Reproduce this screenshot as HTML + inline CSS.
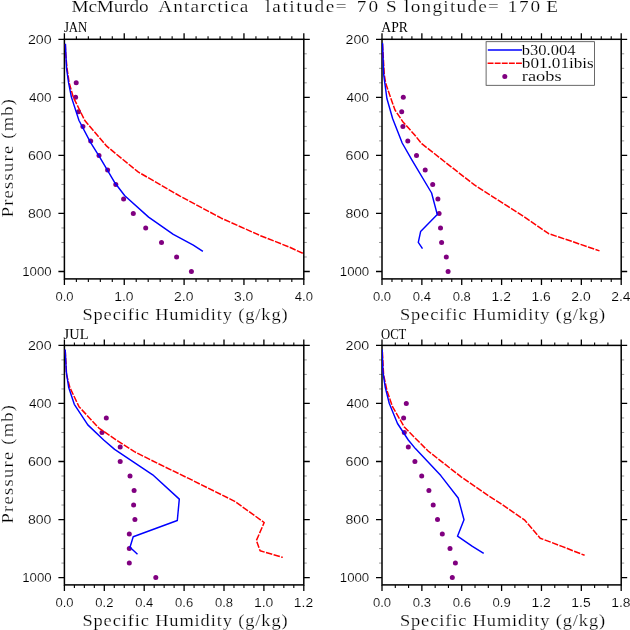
<!DOCTYPE html><html><head><meta charset="utf-8"><style>html,body{margin:0;padding:0;background:#fff;width:630px;height:630px;overflow:hidden}svg{display:block}</style></head><body>
<svg width="630" height="630" viewBox="0 0 630 630" style="will-change:transform">
<rect width="630" height="630" fill="#fff"/>
<defs>
<clipPath id="cP1"><rect x="64.4" y="39.3" width="239.40" height="239.60"/></clipPath>
<clipPath id="cP2"><rect x="382.0" y="39.3" width="239.20" height="239.60"/></clipPath>
<clipPath id="cP3"><rect x="64.4" y="345.4" width="239.40" height="239.50"/></clipPath>
<clipPath id="cP4"><rect x="382.0" y="345.4" width="239.20" height="239.50"/></clipPath>
</defs>
<path d="M58.40 39.30H64.40M303.80 39.30H309.80M58.40 97.35H64.40M303.80 97.35H309.80M58.40 155.40H64.40M303.80 155.40H309.80M58.40 213.45H64.40M303.80 213.45H309.80M58.40 271.50H64.40M303.80 271.50H309.80M64.40 33.30V39.30M64.40 278.90V284.90M124.25 33.30V39.30M124.25 278.90V284.90M184.10 33.30V39.30M184.10 278.90V284.90M243.95 33.30V39.30M243.95 278.90V284.90M303.80 33.30V39.30M303.80 278.90V284.90" stroke="#000" stroke-width="1.3" fill="none"/>
<path d="M76.37 36.30V39.30M76.37 278.90V281.90M88.34 36.30V39.30M88.34 278.90V281.90M100.31 36.30V39.30M100.31 278.90V281.90M112.28 36.30V39.30M112.28 278.90V281.90M136.22 36.30V39.30M136.22 278.90V281.90M148.19 36.30V39.30M148.19 278.90V281.90M160.16 36.30V39.30M160.16 278.90V281.90M172.13 36.30V39.30M172.13 278.90V281.90M196.07 36.30V39.30M196.07 278.90V281.90M208.04 36.30V39.30M208.04 278.90V281.90M220.01 36.30V39.30M220.01 278.90V281.90M231.98 36.30V39.30M231.98 278.90V281.90M255.92 36.30V39.30M255.92 278.90V281.90M267.89 36.30V39.30M267.89 278.90V281.90M279.86 36.30V39.30M279.86 278.90V281.90M291.83 36.30V39.30M291.83 278.90V281.90" stroke="#000" stroke-width="1.1" fill="none"/>
<path d="M61.40 53.81H64.40M303.80 53.81H306.80M61.40 68.33H64.40M303.80 68.33H306.80M61.40 82.84H64.40M303.80 82.84H306.80M61.40 111.86H64.40M303.80 111.86H306.80M61.40 126.38H64.40M303.80 126.38H306.80M61.40 140.89H64.40M303.80 140.89H306.80M61.40 169.91H64.40M303.80 169.91H306.80M61.40 184.43H64.40M303.80 184.43H306.80M61.40 198.94H64.40M303.80 198.94H306.80M61.40 227.96H64.40M303.80 227.96H306.80M61.40 242.48H64.40M303.80 242.48H306.80M61.40 256.99H64.40M303.80 256.99H306.80" stroke="#999" stroke-width="1.0" fill="none"/>
<rect x="64.4" y="39.3" width="239.40" height="239.60" stroke="#000" stroke-width="1.5" fill="none"/>
<g clip-path="url(#cP1)"><circle cx="76.2" cy="82.84" r="2.5" fill="#800080"/><circle cx="75.6" cy="97.35" r="2.5" fill="#800080"/><circle cx="78.5" cy="111.86" r="2.5" fill="#800080"/><circle cx="82.9" cy="126.38" r="2.5" fill="#800080"/><circle cx="90.7" cy="140.89" r="2.5" fill="#800080"/><circle cx="99" cy="155.40" r="2.5" fill="#800080"/><circle cx="107.6" cy="169.91" r="2.5" fill="#800080"/><circle cx="115.8" cy="184.43" r="2.5" fill="#800080"/><circle cx="123.6" cy="198.94" r="2.5" fill="#800080"/><circle cx="133.3" cy="213.45" r="2.5" fill="#800080"/><circle cx="145.7" cy="227.96" r="2.5" fill="#800080"/><circle cx="161.5" cy="242.48" r="2.5" fill="#800080"/><circle cx="176.6" cy="256.99" r="2.5" fill="#800080"/><circle cx="191.4" cy="271.50" r="2.5" fill="#800080"/><polyline points="65.3,44.0 65.7,54 67.0,68 69.2,83 73.4,97.5 84.8,120.5 106.7,146.2 138.1,171.9 180,196.1 221.3,218.2 260.5,235.7 289.4,247.1 302.8,253.3 330,266" fill="none" stroke="#f00" stroke-width="1.5" stroke-dasharray="6.5 1.4" stroke-linejoin="round"/><polyline points="65.4,43.8 66.5,68 68.6,82.9 71.4,97.1 79,120.5 90.5,142.4 100,157.6 115.2,183.3 124.8,195.7 148.6,217.1 173.3,234.3 193.3,245.1 202.9,251.4" fill="none" stroke="#00f" stroke-width="1.45" stroke-linejoin="round"/></g>
<path d="M376.00 39.30H382.00M621.20 39.30H627.20M376.00 97.35H382.00M621.20 97.35H627.20M376.00 155.40H382.00M621.20 155.40H627.20M376.00 213.45H382.00M621.20 213.45H627.20M376.00 271.50H382.00M621.20 271.50H627.20M382.00 33.30V39.30M382.00 278.90V284.90M421.87 33.30V39.30M421.87 278.90V284.90M461.73 33.30V39.30M461.73 278.90V284.90M501.60 33.30V39.30M501.60 278.90V284.90M541.47 33.30V39.30M541.47 278.90V284.90M581.33 33.30V39.30M581.33 278.90V284.90M621.20 33.30V39.30M621.20 278.90V284.90" stroke="#000" stroke-width="1.3" fill="none"/>
<path d="M391.97 36.30V39.30M391.97 278.90V281.90M401.93 36.30V39.30M401.93 278.90V281.90M411.90 36.30V39.30M411.90 278.90V281.90M431.83 36.30V39.30M431.83 278.90V281.90M441.80 36.30V39.30M441.80 278.90V281.90M451.77 36.30V39.30M451.77 278.90V281.90M471.70 36.30V39.30M471.70 278.90V281.90M481.67 36.30V39.30M481.67 278.90V281.90M491.63 36.30V39.30M491.63 278.90V281.90M511.57 36.30V39.30M511.57 278.90V281.90M521.53 36.30V39.30M521.53 278.90V281.90M531.50 36.30V39.30M531.50 278.90V281.90M551.43 36.30V39.30M551.43 278.90V281.90M561.40 36.30V39.30M561.40 278.90V281.90M571.37 36.30V39.30M571.37 278.90V281.90M591.30 36.30V39.30M591.30 278.90V281.90M601.27 36.30V39.30M601.27 278.90V281.90M611.23 36.30V39.30M611.23 278.90V281.90" stroke="#000" stroke-width="1.1" fill="none"/>
<path d="M379.00 53.81H382.00M621.20 53.81H624.20M379.00 68.33H382.00M621.20 68.33H624.20M379.00 82.84H382.00M621.20 82.84H624.20M379.00 111.86H382.00M621.20 111.86H624.20M379.00 126.38H382.00M621.20 126.38H624.20M379.00 140.89H382.00M621.20 140.89H624.20M379.00 169.91H382.00M621.20 169.91H624.20M379.00 184.43H382.00M621.20 184.43H624.20M379.00 198.94H382.00M621.20 198.94H624.20M379.00 227.96H382.00M621.20 227.96H624.20M379.00 242.48H382.00M621.20 242.48H624.20M379.00 256.99H382.00M621.20 256.99H624.20" stroke="#999" stroke-width="1.0" fill="none"/>
<rect x="382.0" y="39.3" width="239.20" height="239.60" stroke="#000" stroke-width="1.5" fill="none"/>
<g clip-path="url(#cP2)"><circle cx="403.3" cy="97.35" r="2.5" fill="#800080"/><circle cx="401.7" cy="111.86" r="2.5" fill="#800080"/><circle cx="402.9" cy="126.38" r="2.5" fill="#800080"/><circle cx="407.8" cy="140.89" r="2.5" fill="#800080"/><circle cx="416.5" cy="155.40" r="2.5" fill="#800080"/><circle cx="425.2" cy="169.91" r="2.5" fill="#800080"/><circle cx="432.7" cy="184.43" r="2.5" fill="#800080"/><circle cx="437.9" cy="198.94" r="2.5" fill="#800080"/><circle cx="439.1" cy="213.45" r="2.5" fill="#800080"/><circle cx="440.5" cy="227.96" r="2.5" fill="#800080"/><circle cx="441.6" cy="242.48" r="2.5" fill="#800080"/><circle cx="446.3" cy="256.99" r="2.5" fill="#800080"/><circle cx="448.1" cy="271.50" r="2.5" fill="#800080"/><polyline points="382.5,44 384.3,74.7 385.6,83 390.9,98.5 395,110 402.6,121.4 414.7,135 421.7,143.7 430.6,150.6 448.3,164.6 474.4,184.9 492.9,196.8 520.8,214.6 548.7,233.7 571.6,241.3 599.5,250.9" fill="none" stroke="#f00" stroke-width="1.5" stroke-dasharray="6.5 1.4" stroke-linejoin="round"/><polyline points="382.5,42.9 383.7,74.7 386.9,98.5 392.6,118.5 402.2,143 411.7,159.7 431.6,193 437.3,214.6 420.6,231.6 418.3,242.4 422.5,248.7" fill="none" stroke="#00f" stroke-width="1.45" stroke-linejoin="round"/></g>
<path d="M58.40 345.40H64.40M303.80 345.40H309.80M58.40 403.45H64.40M303.80 403.45H309.80M58.40 461.50H64.40M303.80 461.50H309.80M58.40 519.55H64.40M303.80 519.55H309.80M58.40 577.60H64.40M303.80 577.60H309.80M64.40 339.40V345.40M64.40 584.90V590.90M104.30 339.40V345.40M104.30 584.90V590.90M144.20 339.40V345.40M144.20 584.90V590.90M184.10 339.40V345.40M184.10 584.90V590.90M224.00 339.40V345.40M224.00 584.90V590.90M263.90 339.40V345.40M263.90 584.90V590.90M303.80 339.40V345.40M303.80 584.90V590.90" stroke="#000" stroke-width="1.3" fill="none"/>
<path d="M74.38 342.40V345.40M74.38 584.90V587.90M84.35 342.40V345.40M84.35 584.90V587.90M94.33 342.40V345.40M94.33 584.90V587.90M114.28 342.40V345.40M114.28 584.90V587.90M124.25 342.40V345.40M124.25 584.90V587.90M134.23 342.40V345.40M134.23 584.90V587.90M154.18 342.40V345.40M154.18 584.90V587.90M164.15 342.40V345.40M164.15 584.90V587.90M174.12 342.40V345.40M174.12 584.90V587.90M194.08 342.40V345.40M194.08 584.90V587.90M204.05 342.40V345.40M204.05 584.90V587.90M214.03 342.40V345.40M214.03 584.90V587.90M233.98 342.40V345.40M233.98 584.90V587.90M243.95 342.40V345.40M243.95 584.90V587.90M253.93 342.40V345.40M253.93 584.90V587.90M273.88 342.40V345.40M273.88 584.90V587.90M283.85 342.40V345.40M283.85 584.90V587.90M293.82 342.40V345.40M293.82 584.90V587.90" stroke="#000" stroke-width="1.1" fill="none"/>
<path d="M61.40 359.91H64.40M303.80 359.91H306.80M61.40 374.42H64.40M303.80 374.42H306.80M61.40 388.94H64.40M303.80 388.94H306.80M61.40 417.96H64.40M303.80 417.96H306.80M61.40 432.47H64.40M303.80 432.47H306.80M61.40 446.99H64.40M303.80 446.99H306.80M61.40 476.01H64.40M303.80 476.01H306.80M61.40 490.52H64.40M303.80 490.52H306.80M61.40 505.04H64.40M303.80 505.04H306.80M61.40 534.06H64.40M303.80 534.06H306.80M61.40 548.58H64.40M303.80 548.58H306.80M61.40 563.09H64.40M303.80 563.09H306.80" stroke="#999" stroke-width="1.0" fill="none"/>
<rect x="64.4" y="345.4" width="239.40" height="239.50" stroke="#000" stroke-width="1.5" fill="none"/>
<g clip-path="url(#cP3)"><circle cx="106.3" cy="417.96" r="2.5" fill="#800080"/><circle cx="102.0" cy="432.47" r="2.5" fill="#800080"/><circle cx="120.2" cy="446.99" r="2.5" fill="#800080"/><circle cx="120.2" cy="461.50" r="2.5" fill="#800080"/><circle cx="130" cy="476.01" r="2.5" fill="#800080"/><circle cx="134.1" cy="490.52" r="2.5" fill="#800080"/><circle cx="133.6" cy="505.04" r="2.5" fill="#800080"/><circle cx="134.9" cy="519.55" r="2.5" fill="#800080"/><circle cx="129.3" cy="534.06" r="2.5" fill="#800080"/><circle cx="129.3" cy="548.58" r="2.5" fill="#800080"/><circle cx="129.3" cy="563.09" r="2.5" fill="#800080"/><circle cx="155.8" cy="577.60" r="2.5" fill="#800080"/><polyline points="65.2,350 66.6,374.9 69.9,387.6 79,406.7 98.9,428.1 116.3,440 134.4,451.7 156.7,462.9 189.2,478.7 234.7,501.3 264.2,522.5 256.4,540.5 260.1,550.8 282.8,557.4" fill="none" stroke="#f00" stroke-width="1.5" stroke-dasharray="6.5 1.4" stroke-linejoin="round"/><polyline points="65.2,349.5 66.3,371.7 68.7,387.6 74.3,404.3 87.8,424.9 103.7,440 114.6,449.4 152.7,474.8 179.3,499.1 177.3,520.5 133.2,536.7 130,547.2 137.5,554.2" fill="none" stroke="#00f" stroke-width="1.45" stroke-linejoin="round"/></g>
<path d="M376.00 345.40H382.00M621.20 345.40H627.20M376.00 403.45H382.00M621.20 403.45H627.20M376.00 461.50H382.00M621.20 461.50H627.20M376.00 519.55H382.00M621.20 519.55H627.20M376.00 577.60H382.00M621.20 577.60H627.20M382.00 339.40V345.40M382.00 584.90V590.90M421.87 339.40V345.40M421.87 584.90V590.90M461.73 339.40V345.40M461.73 584.90V590.90M501.60 339.40V345.40M501.60 584.90V590.90M541.47 339.40V345.40M541.47 584.90V590.90M581.33 339.40V345.40M581.33 584.90V590.90M621.20 339.40V345.40M621.20 584.90V590.90" stroke="#000" stroke-width="1.3" fill="none"/>
<path d="M395.29 342.40V345.40M395.29 584.90V587.90M408.58 342.40V345.40M408.58 584.90V587.90M435.16 342.40V345.40M435.16 584.90V587.90M448.44 342.40V345.40M448.44 584.90V587.90M475.02 342.40V345.40M475.02 584.90V587.90M488.31 342.40V345.40M488.31 584.90V587.90M514.89 342.40V345.40M514.89 584.90V587.90M528.18 342.40V345.40M528.18 584.90V587.90M554.76 342.40V345.40M554.76 584.90V587.90M568.04 342.40V345.40M568.04 584.90V587.90M594.62 342.40V345.40M594.62 584.90V587.90M607.91 342.40V345.40M607.91 584.90V587.90" stroke="#000" stroke-width="1.1" fill="none"/>
<path d="M379.00 359.91H382.00M621.20 359.91H624.20M379.00 374.42H382.00M621.20 374.42H624.20M379.00 388.94H382.00M621.20 388.94H624.20M379.00 417.96H382.00M621.20 417.96H624.20M379.00 432.47H382.00M621.20 432.47H624.20M379.00 446.99H382.00M621.20 446.99H624.20M379.00 476.01H382.00M621.20 476.01H624.20M379.00 490.52H382.00M621.20 490.52H624.20M379.00 505.04H382.00M621.20 505.04H624.20M379.00 534.06H382.00M621.20 534.06H624.20M379.00 548.58H382.00M621.20 548.58H624.20M379.00 563.09H382.00M621.20 563.09H624.20" stroke="#999" stroke-width="1.0" fill="none"/>
<rect x="382.0" y="345.4" width="239.20" height="239.50" stroke="#000" stroke-width="1.5" fill="none"/>
<g clip-path="url(#cP4)"><circle cx="406.3" cy="403.45" r="2.5" fill="#800080"/><circle cx="403.6" cy="417.96" r="2.5" fill="#800080"/><circle cx="404.3" cy="432.47" r="2.5" fill="#800080"/><circle cx="408.3" cy="446.99" r="2.5" fill="#800080"/><circle cx="414.9" cy="461.50" r="2.5" fill="#800080"/><circle cx="421.7" cy="476.01" r="2.5" fill="#800080"/><circle cx="428.9" cy="490.52" r="2.5" fill="#800080"/><circle cx="433.2" cy="505.04" r="2.5" fill="#800080"/><circle cx="437.5" cy="519.55" r="2.5" fill="#800080"/><circle cx="442.3" cy="534.06" r="2.5" fill="#800080"/><circle cx="450" cy="548.58" r="2.5" fill="#800080"/><circle cx="455.4" cy="563.09" r="2.5" fill="#800080"/><circle cx="452.3" cy="577.60" r="2.5" fill="#800080"/><polyline points="382.4,352 383.6,374.9 387.0,390.8 392.5,406.7 404.3,427 417.1,440 428.1,451 461.4,477.1 489.2,496.2 500,503.1 524.8,520.2 540.2,538.2 561.9,546.4 584.6,555.3" fill="none" stroke="#f00" stroke-width="1.5" stroke-dasharray="6.5 1.4" stroke-linejoin="round"/><polyline points="382.1,349.5 382.9,371.7 385.3,387.6 389.3,403.5 397.5,423.5 408.3,440 415.4,448.6 440.8,475.6 458.2,498 464,519.8 457.5,536.2 472.4,546.3 483.7,553.3" fill="none" stroke="#00f" stroke-width="1.45" stroke-linejoin="round"/></g>
<rect x="486.1" y="41.7" width="108.3" height="43.6" fill="#fff" stroke="#444" stroke-width="0.8"/>
<line x1="487.8" y1="50.0" x2="522.0" y2="50.0" stroke="#00f" stroke-width="1.5"/>
<line x1="487.6" y1="63.3" x2="522.2" y2="63.3" stroke="#f00" stroke-width="1.5" stroke-dasharray="5.9 1.2"/>
<circle cx="504.8" cy="76.6" r="2.5" fill="#800080"/>
<text transform="translate(71.50,11.80) scale(1.1,1)" x="0" y="0" font-family="Liberation Serif" font-size="17.5" textLength="70.165" lengthAdjust="spacing" fill="#000" stroke="#fff" stroke-width="0.2">McMurdo</text>
<text transform="translate(158.30,11.80) scale(1.1,1)" x="0" y="0" font-family="Liberation Serif" font-size="17.5" textLength="81.926" lengthAdjust="spacing" fill="#000" stroke="#fff" stroke-width="0.2">Antarctica</text>
<text transform="translate(265.30,11.80) scale(1.1,1)" x="0" y="0" font-family="Liberation Serif" font-size="17.5" textLength="73.989" lengthAdjust="spacing" fill="#000" stroke="#fff" stroke-width="0.2">latitude=</text>
<text transform="translate(356.80,11.80) scale(1.1,1)" x="0" y="0" font-family="Liberation Serif" font-size="17.5" textLength="19.305" lengthAdjust="spacing" fill="#000" stroke="#fff" stroke-width="0.2">70</text>
<text transform="translate(386.00,11.80) scale(1.1,1)" x="0" y="0" font-family="Liberation Serif" font-size="17.5" textLength="6.545" lengthAdjust="spacing" fill="#000" stroke="#fff" stroke-width="0.2">S</text>
<text transform="translate(404.10,11.80) scale(1.1,1)" x="0" y="0" font-family="Liberation Serif" font-size="17.5" textLength="86.253" lengthAdjust="spacing" fill="#000" stroke="#fff" stroke-width="0.2">longitude=</text>
<text transform="translate(507.70,11.80) scale(1.1,1)" x="0" y="0" font-family="Liberation Serif" font-size="17.5" textLength="29.458" lengthAdjust="spacing" fill="#000" stroke="#fff" stroke-width="0.2">170</text>
<text transform="translate(546.30,11.80) scale(1.1,1)" x="0" y="0" font-family="Liberation Serif" font-size="17.5" textLength="13.582" lengthAdjust="spacing" fill="#000" stroke="#fff" stroke-width="0.2">E</text>
<text transform="translate(63.90,32.00) scale(1.0,1)" x="0" y="0" font-family="Liberation Serif" font-size="13.6" textLength="23.362" lengthAdjust="spacingAndGlyphs" fill="#000" stroke="#fff" stroke-width="0.0">JAN</text>
<text transform="translate(82.40,320.00) scale(1.15,1)" x="0" y="0" font-family="Liberation Serif" font-size="16" textLength="178.451" lengthAdjust="spacing" fill="#000" stroke="#fff" stroke-width="0.2">Specific Humidity (g/kg)</text>
<text transform="translate(55.40,300.90) scale(1.0,1)" x="0" y="0" font-family="Liberation Sans" font-size="12" textLength="18.118" lengthAdjust="spacingAndGlyphs" fill="#000" stroke="#fff" stroke-width="0.15">0.0</text>
<text transform="translate(114.25,300.90) scale(1.0,1)" x="0" y="0" font-family="Liberation Sans" font-size="12" textLength="19.326" lengthAdjust="spacingAndGlyphs" fill="#000" stroke="#fff" stroke-width="0.15">1.0</text>
<text transform="translate(174.10,300.90) scale(1.0,1)" x="0" y="0" font-family="Liberation Sans" font-size="12" textLength="19.326" lengthAdjust="spacingAndGlyphs" fill="#000" stroke="#fff" stroke-width="0.15">2.0</text>
<text transform="translate(233.95,300.90) scale(1.0,1)" x="0" y="0" font-family="Liberation Sans" font-size="12" textLength="19.326" lengthAdjust="spacingAndGlyphs" fill="#000" stroke="#fff" stroke-width="0.15">3.0</text>
<text transform="translate(294.80,300.90) scale(1.0,1)" x="0" y="0" font-family="Liberation Sans" font-size="12" textLength="18.118" lengthAdjust="spacingAndGlyphs" fill="#000" stroke="#fff" stroke-width="0.15">4.0</text>
<text transform="translate(27.90,43.70) scale(1.0,1)" x="0" y="0" font-family="Liberation Sans" font-size="12" textLength="23.684" lengthAdjust="spacingAndGlyphs" fill="#000" stroke="#fff" stroke-width="0.15">200</text>
<text transform="translate(28.90,101.75) scale(1.0,1)" x="0" y="0" font-family="Liberation Sans" font-size="12" textLength="22.5" lengthAdjust="spacingAndGlyphs" fill="#000" stroke="#fff" stroke-width="0.15">400</text>
<text transform="translate(27.90,159.80) scale(1.0,1)" x="0" y="0" font-family="Liberation Sans" font-size="12" textLength="23.684" lengthAdjust="spacingAndGlyphs" fill="#000" stroke="#fff" stroke-width="0.15">600</text>
<text transform="translate(27.90,217.85) scale(1.0,1)" x="0" y="0" font-family="Liberation Sans" font-size="12" textLength="23.523" lengthAdjust="spacingAndGlyphs" fill="#000" stroke="#fff" stroke-width="0.15">800</text>
<text transform="translate(22.20,275.90) scale(1.0,1)" x="0" y="0" font-family="Liberation Sans" font-size="12" textLength="29.423" lengthAdjust="spacingAndGlyphs" fill="#000" stroke="#fff" stroke-width="0.15">1000</text>
<text transform="translate(381.30,32.00) scale(1.0,1)" x="0" y="0" font-family="Liberation Serif" font-size="13.6" textLength="26.599" lengthAdjust="spacingAndGlyphs" fill="#000" stroke="#fff" stroke-width="0.0">APR</text>
<text transform="translate(399.90,320.00) scale(1.15,1)" x="0" y="0" font-family="Liberation Serif" font-size="16" textLength="178.451" lengthAdjust="spacing" fill="#000" stroke="#fff" stroke-width="0.2">Specific Humidity (g/kg)</text>
<text transform="translate(373.00,300.90) scale(1.0,1)" x="0" y="0" font-family="Liberation Sans" font-size="12" textLength="18.118" lengthAdjust="spacingAndGlyphs" fill="#000" stroke="#fff" stroke-width="0.15">0.0</text>
<text transform="translate(412.87,300.90) scale(1.0,1)" x="0" y="0" font-family="Liberation Sans" font-size="12" textLength="18.118" lengthAdjust="spacingAndGlyphs" fill="#000" stroke="#fff" stroke-width="0.15">0.4</text>
<text transform="translate(452.73,300.90) scale(1.0,1)" x="0" y="0" font-family="Liberation Sans" font-size="12" textLength="18.118" lengthAdjust="spacingAndGlyphs" fill="#000" stroke="#fff" stroke-width="0.15">0.8</text>
<text transform="translate(491.60,300.90) scale(1.0,1)" x="0" y="0" font-family="Liberation Sans" font-size="12" textLength="19.326" lengthAdjust="spacingAndGlyphs" fill="#000" stroke="#fff" stroke-width="0.15">1.2</text>
<text transform="translate(531.47,300.90) scale(1.0,1)" x="0" y="0" font-family="Liberation Sans" font-size="12" textLength="19.326" lengthAdjust="spacingAndGlyphs" fill="#000" stroke="#fff" stroke-width="0.15">1.6</text>
<text transform="translate(571.33,300.90) scale(1.0,1)" x="0" y="0" font-family="Liberation Sans" font-size="12" textLength="19.326" lengthAdjust="spacingAndGlyphs" fill="#000" stroke="#fff" stroke-width="0.15">2.0</text>
<text transform="translate(611.20,300.90) scale(1.0,1)" x="0" y="0" font-family="Liberation Sans" font-size="12" textLength="19.326" lengthAdjust="spacingAndGlyphs" fill="#000" stroke="#fff" stroke-width="0.15">2.4</text>
<text transform="translate(345.50,43.70) scale(1.0,1)" x="0" y="0" font-family="Liberation Sans" font-size="12" textLength="23.684" lengthAdjust="spacingAndGlyphs" fill="#000" stroke="#fff" stroke-width="0.15">200</text>
<text transform="translate(346.50,101.75) scale(1.0,1)" x="0" y="0" font-family="Liberation Sans" font-size="12" textLength="22.5" lengthAdjust="spacingAndGlyphs" fill="#000" stroke="#fff" stroke-width="0.15">400</text>
<text transform="translate(345.50,159.80) scale(1.0,1)" x="0" y="0" font-family="Liberation Sans" font-size="12" textLength="23.684" lengthAdjust="spacingAndGlyphs" fill="#000" stroke="#fff" stroke-width="0.15">600</text>
<text transform="translate(345.50,217.85) scale(1.0,1)" x="0" y="0" font-family="Liberation Sans" font-size="12" textLength="23.523" lengthAdjust="spacingAndGlyphs" fill="#000" stroke="#fff" stroke-width="0.15">800</text>
<text transform="translate(339.80,275.90) scale(1.0,1)" x="0" y="0" font-family="Liberation Sans" font-size="12" textLength="29.423" lengthAdjust="spacingAndGlyphs" fill="#000" stroke="#fff" stroke-width="0.15">1000</text>
<text transform="translate(63.60,338.50) scale(1.0,1)" x="0" y="0" font-family="Liberation Serif" font-size="13.6" textLength="24.85" lengthAdjust="spacingAndGlyphs" fill="#000" stroke="#fff" stroke-width="0.0">JUL</text>
<text transform="translate(82.40,626.00) scale(1.15,1)" x="0" y="0" font-family="Liberation Serif" font-size="16" textLength="178.451" lengthAdjust="spacing" fill="#000" stroke="#fff" stroke-width="0.2">Specific Humidity (g/kg)</text>
<text transform="translate(55.40,606.90) scale(1.0,1)" x="0" y="0" font-family="Liberation Sans" font-size="12" textLength="18.118" lengthAdjust="spacingAndGlyphs" fill="#000" stroke="#fff" stroke-width="0.15">0.0</text>
<text transform="translate(95.30,606.90) scale(1.0,1)" x="0" y="0" font-family="Liberation Sans" font-size="12" textLength="18.175" lengthAdjust="spacingAndGlyphs" fill="#000" stroke="#fff" stroke-width="0.15">0.2</text>
<text transform="translate(135.20,606.90) scale(1.0,1)" x="0" y="0" font-family="Liberation Sans" font-size="12" textLength="18.118" lengthAdjust="spacingAndGlyphs" fill="#000" stroke="#fff" stroke-width="0.15">0.4</text>
<text transform="translate(175.10,606.90) scale(1.0,1)" x="0" y="0" font-family="Liberation Sans" font-size="12" textLength="18.175" lengthAdjust="spacingAndGlyphs" fill="#000" stroke="#fff" stroke-width="0.15">0.6</text>
<text transform="translate(215.00,606.90) scale(1.0,1)" x="0" y="0" font-family="Liberation Sans" font-size="12" textLength="18.118" lengthAdjust="spacingAndGlyphs" fill="#000" stroke="#fff" stroke-width="0.15">0.8</text>
<text transform="translate(253.90,606.90) scale(1.0,1)" x="0" y="0" font-family="Liberation Sans" font-size="12" textLength="19.326" lengthAdjust="spacingAndGlyphs" fill="#000" stroke="#fff" stroke-width="0.15">1.0</text>
<text transform="translate(293.80,606.90) scale(1.0,1)" x="0" y="0" font-family="Liberation Sans" font-size="12" textLength="19.326" lengthAdjust="spacingAndGlyphs" fill="#000" stroke="#fff" stroke-width="0.15">1.2</text>
<text transform="translate(27.90,349.80) scale(1.0,1)" x="0" y="0" font-family="Liberation Sans" font-size="12" textLength="23.684" lengthAdjust="spacingAndGlyphs" fill="#000" stroke="#fff" stroke-width="0.15">200</text>
<text transform="translate(28.90,407.85) scale(1.0,1)" x="0" y="0" font-family="Liberation Sans" font-size="12" textLength="22.5" lengthAdjust="spacingAndGlyphs" fill="#000" stroke="#fff" stroke-width="0.15">400</text>
<text transform="translate(27.90,465.90) scale(1.0,1)" x="0" y="0" font-family="Liberation Sans" font-size="12" textLength="23.684" lengthAdjust="spacingAndGlyphs" fill="#000" stroke="#fff" stroke-width="0.15">600</text>
<text transform="translate(27.90,523.95) scale(1.0,1)" x="0" y="0" font-family="Liberation Sans" font-size="12" textLength="23.523" lengthAdjust="spacingAndGlyphs" fill="#000" stroke="#fff" stroke-width="0.15">800</text>
<text transform="translate(22.20,582.00) scale(1.0,1)" x="0" y="0" font-family="Liberation Sans" font-size="12" textLength="29.423" lengthAdjust="spacingAndGlyphs" fill="#000" stroke="#fff" stroke-width="0.15">1000</text>
<text transform="translate(381.00,338.50) scale(1.0,1)" x="0" y="0" font-family="Liberation Serif" font-size="13.6" textLength="25.33" lengthAdjust="spacingAndGlyphs" fill="#000" stroke="#fff" stroke-width="0.0">OCT</text>
<text transform="translate(399.90,626.00) scale(1.15,1)" x="0" y="0" font-family="Liberation Serif" font-size="16" textLength="178.451" lengthAdjust="spacing" fill="#000" stroke="#fff" stroke-width="0.2">Specific Humidity (g/kg)</text>
<text transform="translate(373.00,606.90) scale(1.0,1)" x="0" y="0" font-family="Liberation Sans" font-size="12" textLength="18.118" lengthAdjust="spacingAndGlyphs" fill="#000" stroke="#fff" stroke-width="0.15">0.0</text>
<text transform="translate(412.87,606.90) scale(1.0,1)" x="0" y="0" font-family="Liberation Sans" font-size="12" textLength="18.175" lengthAdjust="spacingAndGlyphs" fill="#000" stroke="#fff" stroke-width="0.15">0.3</text>
<text transform="translate(452.73,606.90) scale(1.0,1)" x="0" y="0" font-family="Liberation Sans" font-size="12" textLength="18.175" lengthAdjust="spacingAndGlyphs" fill="#000" stroke="#fff" stroke-width="0.15">0.6</text>
<text transform="translate(492.60,606.90) scale(1.0,1)" x="0" y="0" font-family="Liberation Sans" font-size="12" textLength="18.175" lengthAdjust="spacingAndGlyphs" fill="#000" stroke="#fff" stroke-width="0.15">0.9</text>
<text transform="translate(531.47,606.90) scale(1.0,1)" x="0" y="0" font-family="Liberation Sans" font-size="12" textLength="19.326" lengthAdjust="spacingAndGlyphs" fill="#000" stroke="#fff" stroke-width="0.15">1.2</text>
<text transform="translate(571.33,606.90) scale(1.0,1)" x="0" y="0" font-family="Liberation Sans" font-size="12" textLength="19.326" lengthAdjust="spacingAndGlyphs" fill="#000" stroke="#fff" stroke-width="0.15">1.5</text>
<text transform="translate(611.20,606.90) scale(1.0,1)" x="0" y="0" font-family="Liberation Sans" font-size="12" textLength="19.326" lengthAdjust="spacingAndGlyphs" fill="#000" stroke="#fff" stroke-width="0.15">1.8</text>
<text transform="translate(345.50,349.80) scale(1.0,1)" x="0" y="0" font-family="Liberation Sans" font-size="12" textLength="23.684" lengthAdjust="spacingAndGlyphs" fill="#000" stroke="#fff" stroke-width="0.15">200</text>
<text transform="translate(346.50,407.85) scale(1.0,1)" x="0" y="0" font-family="Liberation Sans" font-size="12" textLength="22.5" lengthAdjust="spacingAndGlyphs" fill="#000" stroke="#fff" stroke-width="0.15">400</text>
<text transform="translate(345.50,465.90) scale(1.0,1)" x="0" y="0" font-family="Liberation Sans" font-size="12" textLength="23.684" lengthAdjust="spacingAndGlyphs" fill="#000" stroke="#fff" stroke-width="0.15">600</text>
<text transform="translate(345.50,523.95) scale(1.0,1)" x="0" y="0" font-family="Liberation Sans" font-size="12" textLength="23.523" lengthAdjust="spacingAndGlyphs" fill="#000" stroke="#fff" stroke-width="0.15">800</text>
<text transform="translate(339.80,582.00) scale(1.0,1)" x="0" y="0" font-family="Liberation Sans" font-size="12" textLength="29.423" lengthAdjust="spacingAndGlyphs" fill="#000" stroke="#fff" stroke-width="0.15">1000</text>
<text transform="translate(13.00,217.35) rotate(-90) scale(1.15,1)" x="0" y="0" font-family="Liberation Serif" font-size="16" textLength="102.876" lengthAdjust="spacing" fill="#000" stroke="#fff" stroke-width="0.2">Pressure (mb)</text>
<text transform="translate(13.00,523.40) rotate(-90) scale(1.15,1)" x="0" y="0" font-family="Liberation Serif" font-size="16" textLength="102.876" lengthAdjust="spacing" fill="#000" stroke="#fff" stroke-width="0.2">Pressure (mb)</text>
<text transform="translate(521.80,54.60) scale(1.0,1)" x="0" y="0" font-family="Liberation Serif" font-size="14.5" textLength="53.72" lengthAdjust="spacingAndGlyphs" fill="#000" stroke="#fff" stroke-width="0.1">b30.004</text>
<text transform="translate(521.80,67.70) scale(1.0,1)" x="0" y="0" font-family="Liberation Serif" font-size="14.5" textLength="71.983" lengthAdjust="spacingAndGlyphs" fill="#000" stroke="#fff" stroke-width="0.1">b01.01ibis</text>
<text transform="translate(521.80,81.20) scale(1.0,1)" x="0" y="0" font-family="Liberation Serif" font-size="14.5" textLength="39.911" lengthAdjust="spacingAndGlyphs" fill="#000" stroke="#fff" stroke-width="0.1">raobs</text>
</svg></body></html>
